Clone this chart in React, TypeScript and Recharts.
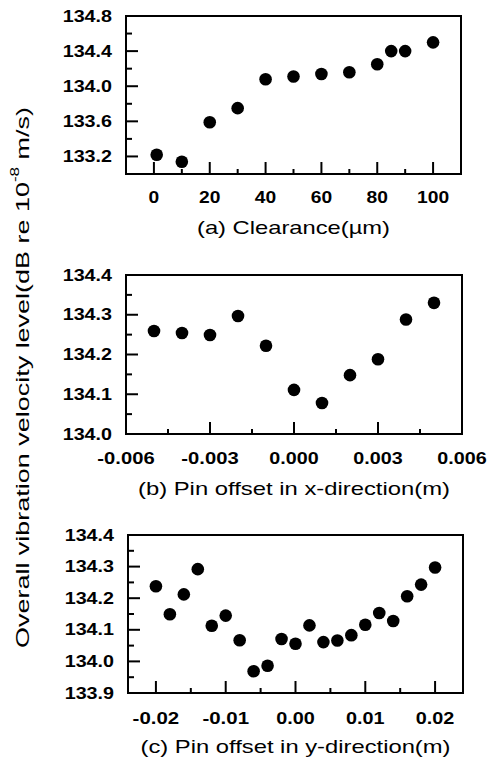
import React from 'react';
import { ScatterChart, Scatter, XAxis, YAxis, ReferenceArea, Label } from 'recharts';

// (a) clearance
const CLEARANCE = [1, 10, 20, 30, 40, 50, 60, 70, 80, 85, 90, 100];
const LEVEL_A = [133.22, 133.14, 133.59, 133.75, 134.08, 134.11, 134.14, 134.16, 134.25, 134.4, 134.4, 134.5];

// (b) pin offset x
const OFFSET_X = [-0.005, -0.004, -0.003, -0.002, -0.001, 0, 0.001, 0.002, 0.003, 0.004, 0.005];
const LEVEL_B = [134.259, 134.254, 134.249, 134.297, 134.222, 134.111, 134.078, 134.148, 134.188, 134.288, 134.33];

// (c) pin offset y
const OFFSET_Y = [
  -0.02, -0.018, -0.016, -0.014, -0.012, -0.01, -0.008, -0.006, -0.004, -0.002, 0,
  0.002, 0.004, 0.006, 0.008, 0.01, 0.012, 0.014, 0.016, 0.018, 0.02,
];
const LEVEL_C = [
  134.238, 134.149, 134.212, 134.292, 134.113, 134.145, 134.067, 133.969, 133.986, 134.071, 134.056,
  134.114, 134.061, 134.066, 134.083, 134.116, 134.153, 134.128, 134.206, 134.243, 134.297,
];

// tick values
const A_X_MAJOR = [0, 20, 40, 60, 80, 100];
const A_X_MINOR = [10, 30, 50, 70, 90];
const A_Y_MAJOR = [133.2, 133.6, 134.0, 134.4, 134.8];
const A_Y_MINOR = [133.4, 133.8, 134.2, 134.6];
const B_X_MAJOR = [-0.006, -0.003, 0, 0.003, 0.006];
const B_X_MINOR = [-0.0045, -0.0015, 0.0015, 0.0045];
const B_Y_MAJOR = [134.0, 134.1, 134.2, 134.3, 134.4];
const B_Y_MINOR = [134.05, 134.15, 134.25, 134.35];
const C_X_MAJOR = [-0.02, -0.01, 0, 0.01, 0.02];
const C_X_MINOR = [-0.015, -0.005, 0.005, 0.015];
const C_Y_MAJOR = [133.9, 134.0, 134.1, 134.2, 134.3, 134.4];
const C_Y_MINOR = [133.95, 134.05, 134.15, 134.25, 134.35];

const Y_TITLE = 'Overall vibration velocity level(dB re 10';
const TITLES = ['(a) Clearance(\u00b5m)', '(b) Pin offset in x-direction(m)', '(c) Pin offset in y-direction(m)'];

const FONT = '"Liberation Sans", Arial, sans-serif';
const INK = '#000';

const textWidth = (s: string) => {
  let w = 0;
  for (const ch of s) w += ch === '.' ? 6.5 : ch === '-' ? 8 : 10.7;
  return w;
};

// ticks point into the plot, labels sit outside
const makeXTick = (majors: number[], fmt: (v: number) => string, labelDy: number) =>
  (props: any) => {
    const x = Number(props.x);
    const y = Number(props.y);
    const v = props.payload.value;
    const major = majors.includes(v);
    const s = fmt(v);
    return (
      <g>
        <line x1={x} x2={x} y1={y} y2={y - (major ? 12 : 5)} stroke={INK} strokeWidth={2} />
        {major && (
          <text
            x={x}
            y={y + labelDy}
            textAnchor="middle"
            dominantBaseline="central"
            fontFamily={FONT}
            fontWeight="bold"
            fontSize={17}
            fill={INK}
            textLength={textWidth(s)}
            lengthAdjust="spacingAndGlyphs"
          >
            {s}
          </text>
        )}
      </g>
    );
  };

const makeYTick = (majors: number[]) => (props: any) => {
  const x = Number(props.x);
  const y = Number(props.y);
  const v = props.payload.value;
  const major = majors.includes(v);
  const s = v.toFixed(1);
  return (
    <g>
      <line x1={x} x2={x + (major ? 12 : 6)} y1={y} y2={y} stroke={INK} strokeWidth={2} />
      {major && (
        <text
          x={x - 14}
          y={y}
          textAnchor="end"
          dominantBaseline="central"
          fontFamily={FONT}
          fontWeight="bold"
          fontSize={17}
          fill={INK}
          textLength={textWidth(s)}
          lengthAdjust="spacingAndGlyphs"
        >
          {s}
        </text>
      )}
    </g>
  );
};

const makeTitle = (title: string, width: number, dy: number) => (props: any) => {
  const vb = props.viewBox || {};
  return (
    <text
      x={vb.x + vb.width / 2}
      y={vb.y + dy}
      textAnchor="middle"
      dominantBaseline="central"
      fontFamily={FONT}
      fontSize={19}
      fill={INK}
      textLength={width}
      lengthAdjust="spacingAndGlyphs"
    >
      {title}
    </text>
  );
};

const dot = (p: any) => <circle cx={p.cx} cy={p.cy} r={6.3} fill={INK} />;

type PanelProps = {
  top: number;
  height: number;
  plotTop: number;
  plotBottom: number;
  plotLeft: number;
  plotRight: number;
  xs: number[];
  ys: number[];
  xDomain: [number, number];
  yDomain: [number, number];
  xMajor: number[];
  xMinor: number[];
  yMajor: number[];
  yMinor: number[];
  xFmt: (v: number) => string;
  labelDy: number;
  title: string;
  titleWidth: number;
  titleDy: number;
};

function Panel(p: PanelProps) {
  const data = p.xs.map((x, i) => ({ x, y: p.ys[i] }));
  const xTicks = [...p.xMajor, ...p.xMinor].sort((a, b) => a - b);
  const yTicks = [...p.yMajor, ...p.yMinor].sort((a, b) => a - b);
  return (
    <div style={{ position: 'absolute', left: 0, top: p.top }}>
      <ScatterChart
        width={489}
        height={p.height}
        margin={{ top: p.plotTop - p.top, right: 489 - p.plotRight, bottom: 0, left: 0 }}
      >
        <XAxis
          dataKey="x"
          type="number"
          domain={p.xDomain}
          ticks={xTicks}
          interval={0}
          height={p.top + p.height - p.plotBottom}
          tickSize={0}
          tickMargin={0}
          tick={makeXTick(p.xMajor, p.xFmt, p.labelDy)}
          axisLine={{ stroke: INK, strokeWidth: 2 }}
        >
          <Label content={makeTitle(p.title, p.titleWidth, p.titleDy)} />
        </XAxis>
        <YAxis
          dataKey="y"
          type="number"
          domain={p.yDomain}
          ticks={yTicks}
          interval={0}
          width={p.plotLeft}
          tickSize={0}
          tickMargin={0}
          tick={makeYTick(p.yMajor)}
          axisLine={{ stroke: INK, strokeWidth: 2 }}
        />
        {/* frame round the plot area */}
        <ReferenceArea
          x1={p.xDomain[0]}
          x2={p.xDomain[1]}
          y1={p.yDomain[0]}
          y2={p.yDomain[1]}
          fill="#fff"
          fillOpacity={0}
          stroke={INK}
          strokeWidth={2}
          ifOverflow="visible"
        />
        <Scatter data={data} shape={dot} isAnimationActive={false} />
      </ScatterChart>
    </div>
  );
}

export default function App() {
  return (
    <div style={{ position: 'absolute', left: 0, top: 0, width: 489, height: 757, background: '#fff' }}>
      <Panel
        top={0}
        height={245}
        plotTop={16}
        plotBottom={174}
        plotLeft={126}
        plotRight={461}
        xs={CLEARANCE}
        ys={LEVEL_A}
        xDomain={[-10, 110]}
        yDomain={[133.0, 134.8]}
        xMajor={A_X_MAJOR}
        xMinor={A_X_MINOR}
        yMajor={A_Y_MAJOR}
        yMinor={A_Y_MINOR}
        xFmt={(v) => String(v)}
        labelDy={23}
        title={TITLES[0]}
        titleWidth={193}
        titleDy={53}
      />
      <Panel
        top={245}
        height={260}
        plotTop={275}
        plotBottom={434}
        plotLeft={126}
        plotRight={462}
        xs={OFFSET_X}
        ys={LEVEL_B}
        xDomain={[-0.006, 0.006]}
        yDomain={[134.0, 134.4]}
        xMajor={B_X_MAJOR}
        xMinor={B_X_MINOR}
        yMajor={B_Y_MAJOR}
        yMinor={B_Y_MINOR}
        xFmt={(v) => v.toFixed(3)}
        labelDy={24}
        title={TITLES[1]}
        titleWidth={312}
        titleDy={54}
      />
      <Panel
        top={505}
        height={252}
        plotTop={535}
        plotBottom={693}
        plotLeft={128}
        plotRight={463}
        xs={OFFSET_Y}
        ys={LEVEL_C}
        xDomain={[-0.024, 0.024]}
        yDomain={[133.9, 134.4]}
        xMajor={C_X_MAJOR}
        xMinor={C_X_MINOR}
        yMajor={C_Y_MAJOR}
        yMinor={C_Y_MINOR}
        xFmt={(v) => v.toFixed(2)}
        labelDy={25}
        title={TITLES[2]}
        titleWidth={310}
        titleDy={53}
      />
      <svg width={48} height={757} style={{ position: 'absolute', left: 0, top: 0 }}>
        <text
          transform="translate(22,377.5) rotate(-90)"
          textAnchor="middle"
          dominantBaseline="central"
          fontFamily={FONT}
          fontSize={19}
          fill={INK}
          textLength={541}
          lengthAdjust="spacingAndGlyphs"
        >
          {Y_TITLE}
          <tspan dy={-7} fontSize={12}>-8</tspan>
          <tspan dy={7}> m/s)</tspan>
        </text>
      </svg>
    </div>
  );
}
